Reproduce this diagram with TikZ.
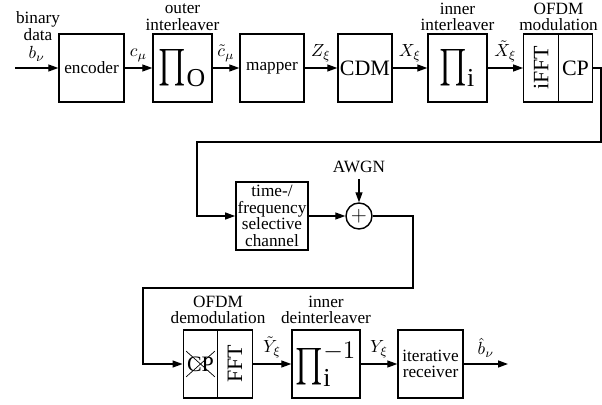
\documentclass[tikz,border=0pt]{standalone}
\usepackage{exscale}
\usepackage{fontspec}
\setmainfont{Liberation Serif}
\usetikzlibrary{arrows.meta,positioning,shapes.misc}
\newcommand{\bigpi}{\mathop{\scalebox{0.8}[1]{$\prod$}}\nolimits}

\begin{document}
\begin{tikzpicture}[every node/.style={font=\fontsize{9.8}{9.4}\selectfont},
 b/.style={draw,line width=0.8pt,minimum height=1.36cm,inner sep=1pt,align=center},
 bg/.style={font=\fontsize{12.5}{14}\selectfont},
 pf/.style={font=\fontsize{21}{23}\selectfont,inner sep=0pt},
 lbl/.style={align=center,inner sep=1pt},
 arr/.style={-{Triangle[length=2mm,width=1.4mm]},line width=0.75pt}]
\useasboundingbox (0,0) rectangle (12.04,8.08);
% transmitter
\node[b,minimum width=1.3cm] (enc) at (1.83,6.72) {encoder};
\node[b,pf,minimum width=1.18cm] (oil) at (3.65,6.72) {$\bigpi_{\mathrm{O}}$};
\node[b,minimum width=1.28cm] (map) at (5.44,6.72) {mapper};
\node[b,bg,minimum width=1.08cm] (cdm) at (7.30,6.72) {CDM};
\node[b,pf,minimum width=1.18cm] (iil) at (9.15,6.72) {$\bigpi_{\mathrm{i}}$};
\node[b,bg,minimum width=0.69cm] (ifft) at (10.82,6.72) {\rotatebox{90}{iFFT}};
\node[b,bg,minimum width=0.69cm] (cp) at (11.51,6.72) {CP};
\node[lbl] (bd) at (0.76,7.56) {binary\\data};
\node[lbl] (oilt) at (3.65,7.74) {outer\\interleaver};
\node[lbl] (iilt) at (9.15,7.74) {inner\\interleaver};
\node[lbl] (ofdmt) at (11.17,7.74) {OFDM\\modulation};
\coordinate (in) at (0.30,6.72);
% channel
\node[b,lbl,minimum width=1.4cm] (chn) at (5.44,3.76) {time-/\\frequency\\selective\\channel};
\node[circle,draw,line width=0.8pt,minimum size=0.52cm,inner sep=0pt,bg] (add) at (7.18,3.76) {$+$};
\node (awgn) at (7.18,4.74) {AWGN};
% receiver
\node[b,minimum width=0.69cm] (cpd) at (4.01,0.8) {};
\node[cross out,draw,line width=0.4pt,inner sep=0pt,minimum width=0.56cm,minimum height=0.5cm,bg] (cpx) at (cpd) {CP};
\node[b,bg,minimum width=0.69cm] (fft) at (4.70,0.8) {\rotatebox{90}{FFT}};
\node[b,pf,minimum width=1.36cm] (dil) at (6.52,0.8) {$\bigpi_{\mathrm{i}}^{-1}$};
\node[b,minimum width=1.3cm] (rcv) at (8.61,0.8) {iterative\\receiver};
\node[lbl] (demt) at (4.36,1.88) {OFDM\\demodulation};
\node[lbl] (dilt) at (6.52,1.88) {inner\\deinterleaver};
\coordinate (out) at (10.16,0.8);
% return lines
\coordinate (r1) at (12.02,5.24);
\coordinate (r2) at (3.94,5.24);
\coordinate (r3) at (8.26,2.32);
\coordinate (r4) at (2.86,2.32);
\draw[arr](in)--node[above]{$b_\nu$}(enc);
\draw[arr](enc)--node[above]{$c_\mu$}(oil);
\draw[arr](oil)--node[above]{$\tilde c_\mu$}(map);
\draw[arr](map)--node[above]{$Z_\xi$}(cdm);
\draw[arr](cdm)--node[above]{$X_\xi$}(iil);
\draw[arr](iil)--node[above]{$\tilde X_\xi$}(ifft);
\draw[arr](cp.east)-|(r1)--(r2)|-(chn.west);
\draw[arr](chn)--(add);
\draw[arr](awgn)--(add);
\draw[arr](add.east)-|(r3)--(r4)|-(cpd.west);
\draw[arr](fft)--node[above]{$\tilde Y_\xi$}(dil);
\draw[arr](dil)--node[above]{$Y_\xi$}(rcv);
\draw[arr](rcv)--node[above]{$\hat b_\nu$}(out);
\end{tikzpicture}
\end{document}
